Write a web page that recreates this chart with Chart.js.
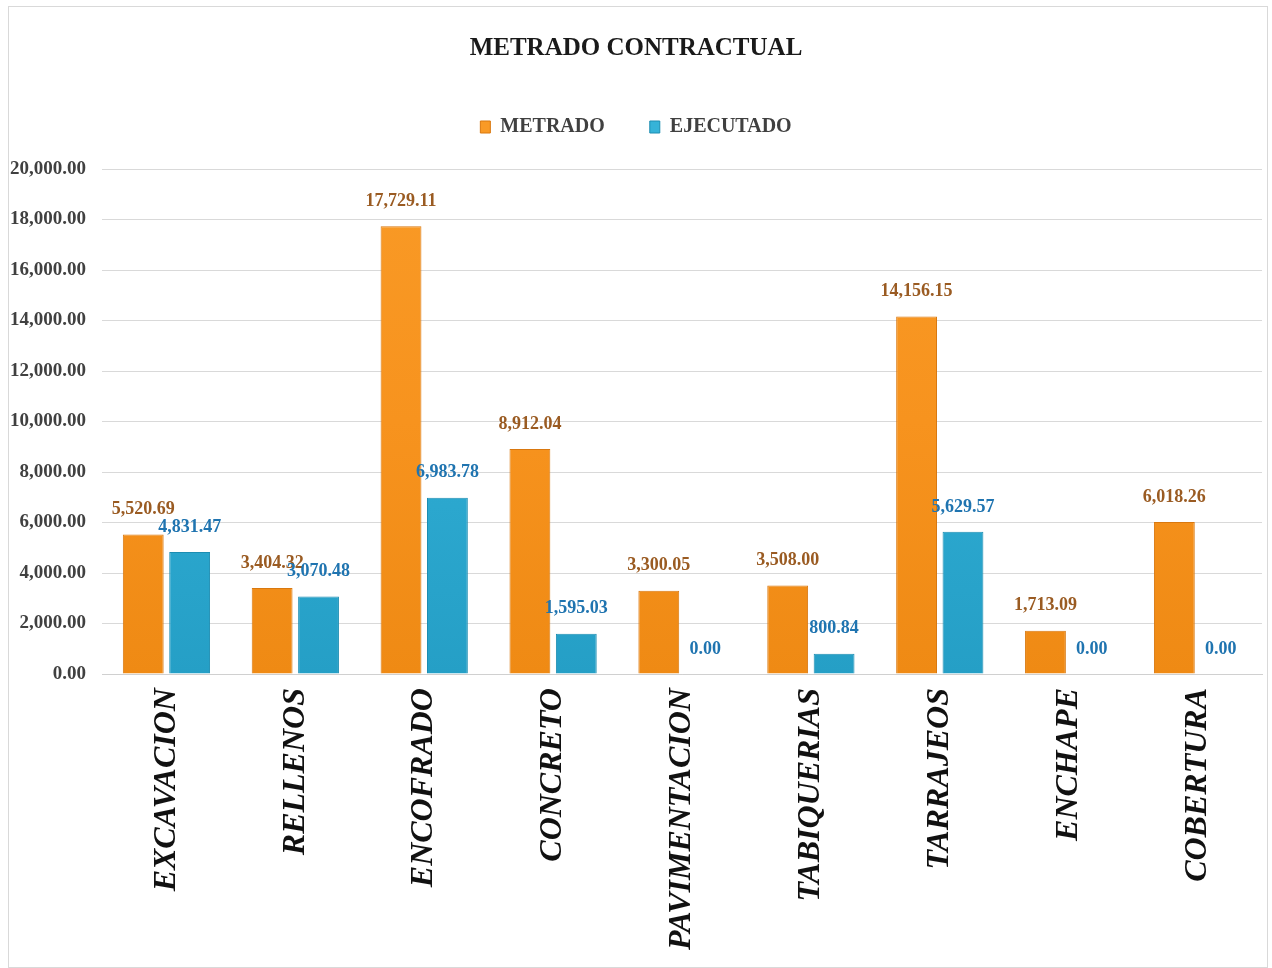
<!DOCTYPE html>
<html>
<head>
<meta charset="utf-8">
<script src="https://cdn.jsdelivr.net/npm/chart.js@4/dist/chart.umd.min.js"></script>
<style>
  html, body { margin: 0; padding: 0; background: #ffffff; }
  #frame { position: absolute; left: 8px; top: 6px; width: 1260px; height: 962px; border: 1px solid #d9d9d9; box-sizing: border-box; background: #fff; }
  #wrap { position: absolute; left: 1px; top: 1px; width: 1258px; height: 960px; }
</style>
</head>
<body>
<div id="frame"><div id="wrap"><canvas id="c"></canvas></div></div>
<script>
const categories = ["EXCAVACION", "RELLENOS", "ENCOFRADO", "CONCRETO", "PAVIMENTACION", "TABIQUERIAS", "TARRAJEOS", "ENCHAPE", "COBERTURA"];
const metrado   = [5520.69, 3404.32, 17729.11, 8912.04, 3300.05, 3508.00, 14156.15, 1713.09, 6018.26];
const ejecutado = [4831.47, 3070.48, 6983.78, 1595.03, 0.00, 800.84, 5629.57, 0.00, 0.00];
const seriesNames = ["METRADO", "EJECUTADO"];
const yTicks = { min: 0, max: 20000, step: 2000 };

const fmt = v => v.toLocaleString('en-US', { minimumFractionDigits: 2, maximumFractionDigits: 2 });
const SERIF = '"Liberation Serif", "Times New Roman", serif';

const labelColors = ["#9a5b22", "#1f74b0"];

const valueLabels = {
  id: 'valueLabels',
  afterDatasetsDraw(chart) {
    const ctx = chart.ctx;
    ctx.save();
    ctx.font = 'bold 18px ' + SERIF;
    ctx.textAlign = 'center';
    ctx.textBaseline = 'middle';
    chart.data.datasets.forEach((ds, di) => {
      const meta = chart.getDatasetMeta(di);
      ctx.fillStyle = labelColors[di];
      meta.data.forEach((bar, i) => {
        ctx.fillText(fmt(ds.data[i]), bar.x, bar.y - 25);
      });
    });
    ctx.restore();
  }
};

const legendSpacing = {
  id: 'legendSpacing',
  beforeInit(chart) {
    const lg = chart.legend;
    if (!lg) return;
    const orig = lg.fit;
    lg.fit = function () { orig.call(this); this.height += 22; };
  }
};

function vGrad(ctx, top, mid, bottom) {
  const area = ctx.chart.chartArea;
  if (!area) return mid;
  const g = ctx.chart.ctx.createLinearGradient(0, area.top, 0, area.bottom);
  g.addColorStop(0, top);
  g.addColorStop(0.5, mid);
  g.addColorStop(1, bottom);
  return g;
}

new Chart(document.getElementById('c'), {
  type: 'bar',
  data: {
    labels: categories,
    datasets: [
      { label: seriesNames[0], data: metrado,
        backgroundColor: c => vGrad(c, '#f99a26', '#f7931e', '#ef8a14'),
        borderColor: '#d9780f', borderWidth: 1,
        categoryPercentage: 0.72, barPercentage: 0.88 },
      { label: seriesNames[1], data: ejecutado,
        backgroundColor: c => vGrad(c, '#36b3d8', '#2eabd2', '#259fc6'),
        borderColor: '#1c8db2', borderWidth: 1,
        categoryPercentage: 0.72, barPercentage: 0.88 }
    ]
  },
  options: {
    responsive: true,
    maintainAspectRatio: false,
    animation: false,
    layout: { padding: { left: 0, right: 6, top: 0, bottom: 4 } },
    plugins: {
      title: {
        display: true,
        text: 'METRADO CONTRACTUAL',
        color: '#1a1a1a',
        font: { family: SERIF, size: 25, weight: 'bold' },
        padding: { top: 26, bottom: 8 }
      },
      legend: {
        display: true,
        position: 'top',
        labels: {
          color: '#404040',
          font: { family: SERIF, size: 20, weight: 'bold' },
          boxWidth: 10,
          boxHeight: 12,
          padding: 45
        }
      },
      tooltip: { enabled: false }
    },
    scales: {
      x: {
        grid: { display: false, drawTicks: false },
        border: { display: true, color: '#d0d0d0' },
        ticks: {
          autoSkip: false,
          maxRotation: 90,
          minRotation: 90,
          padding: 14,
          color: '#111111',
          font: { family: SERIF, size: 32, weight: 'bold', style: 'italic' }
        }
      },
      y: {
        min: yTicks.min,
        max: yTicks.max,
        grid: { color: '#d9d9d9', drawTicks: false },
        border: { display: false },
        afterFit: scale => { scale.width -= 16; },
        ticks: {
          stepSize: yTicks.step,
          padding: 16,
          color: '#404040',
          font: { family: SERIF, size: 19, weight: 'bold' },
          callback: v => fmt(v)
        }
      }
    }
  },
  plugins: [valueLabels, legendSpacing]
});
</script>
</body>
</html>
